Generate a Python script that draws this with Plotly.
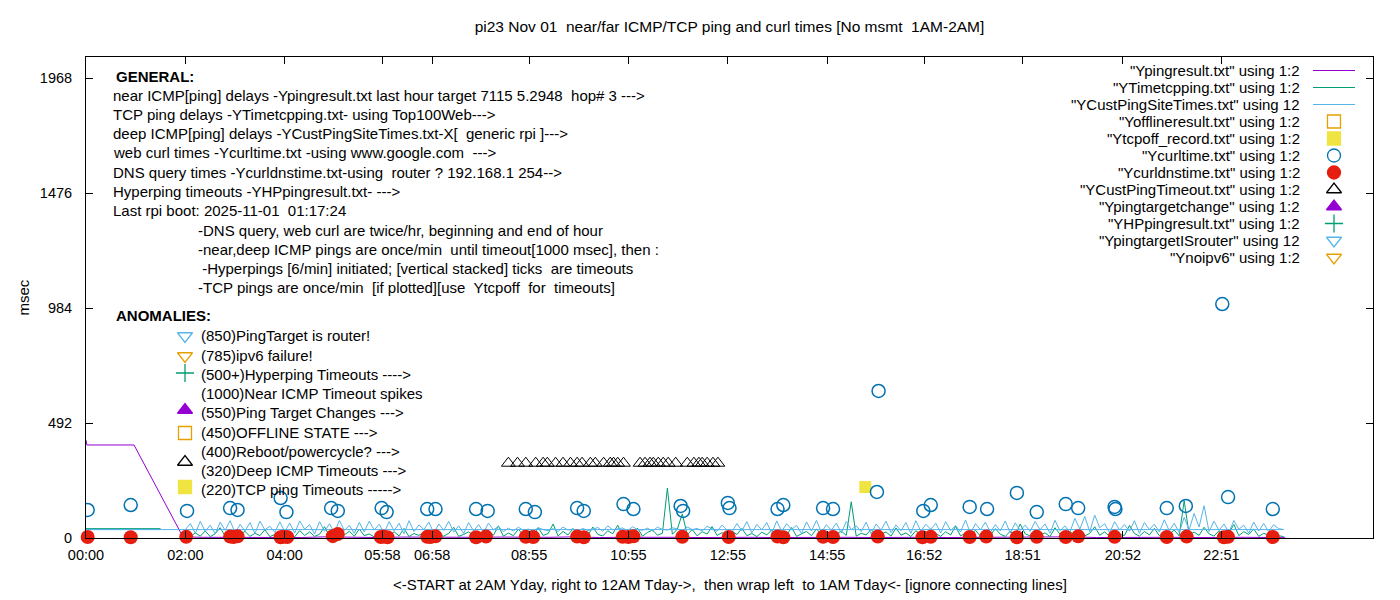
import plotly.graph_objects as go

# ---- data (x in minutes after midnight, y in msec) ----
tick_min = [0, 120, 240, 358, 418, 535, 655, 775, 895, 1012, 1131, 1252, 1371]
tick_txt = ["00:00", "02:00", "04:00", "05:58", "06:58", "08:55", "10:55",
            "12:55", "14:55", "16:52", "18:51", "20:52", "22:51"]
y_ticks = [0, 492, 984, 1476, 1968]

# once/min pings, shown here every 6 min
ping_min = [120, 126, 132, 138, 144, 150, 156, 162, 168, 174, 180, 186, 192, 198, 204, 210, 216, 222, 228, 234,
            240, 246, 252, 258, 264, 270, 276, 282, 288, 294, 300, 306, 312, 318, 324, 330, 336, 342, 348, 354,
            360, 366, 372, 378, 384, 390, 396, 402, 408, 414, 420, 426, 432, 438, 444, 450, 456, 462, 468, 474,
            480, 486, 492, 498, 504, 510, 516, 522, 528, 534, 540, 546, 552, 558, 564, 570, 576, 582, 588, 594,
            600, 606, 612, 618, 624, 630, 636, 642, 648, 654, 660, 666, 672, 678, 684, 690, 696, 702, 708, 714,
            720, 726, 732, 738, 744, 750, 756, 762, 768, 774, 780, 786, 792, 798, 804, 810, 816, 822, 828, 834,
            840, 846, 852, 858, 864, 870, 876, 882, 888, 894, 900, 906, 912, 918, 924, 930, 936, 942, 948, 954,
            960, 966, 972, 978, 984, 990, 996, 1002, 1008, 1014, 1020, 1026, 1032, 1038, 1044, 1050, 1056, 1062, 1068, 1074,
            1080, 1086, 1092, 1098, 1104, 1110, 1116, 1122, 1128, 1134, 1140, 1146, 1152, 1158, 1164, 1170, 1176, 1182, 1188, 1194,
            1200, 1206, 1212, 1218, 1224, 1230, 1236, 1242, 1248, 1254, 1260, 1266, 1272, 1278, 1284, 1290, 1296, 1302, 1308, 1314,
            1320, 1326, 1332, 1338, 1344, 1350, 1356, 1362, 1368, 1374, 1380, 1386, 1392, 1398, 1404, 1410, 1416, 1422, 1428, 1434,
            1440, 1446]

tcp_ms = [12, 5, 22, 8, 30, 6, 18, 44, 9, 25, 4, 15, 28, 7, 20, 10, 35, 6, 14, 24,
          8, 19, 5, 32, 11, 26, 7, 16, 48, 9, 21, 6, 13, 29, 8, 38, 10, 17, 5, 23,
          14, 7, 27, 9, 41, 6, 19, 11, 24, 5, 33, 12, 8, 20, 46, 7, 15, 26, 9, 18,
          6, 29, 12, 52, 8, 21, 10, 37, 14, 25, 7, 44, 11, 19, 60, 9, 28, 13, 40, 8,
          22, 11, 47, 15, 9, 31, 18, 55, 10, 26, 13, 42, 8, 24, 34, 12, 20, 214, 16, 38,
          103, 14, 36, 9, 27, 17, 49, 11, 23, 8, 30, 15, 41, 10, 19, 6, 25, 13, 35, 9,
          21, 12, 45, 7, 18, 28, 10, 39, 14, 6, 24, 16, 30, 11, 155, 8, 20, 13, 37, 9,
          17, 26, 8, 43, 12, 22, 6, 31, 15, 10, 38, 19, 7, 27, 13, 50, 9, 21, 14, 33,
          8, 24, 11, 40, 16, 7, 29, 12, 60, 18, 9, 35, 14, 22, 6, 44, 17, 10, 27, 13,
          30, 9, 20, 48, 12, 26, 7, 37, 15, 11, 54, 19, 8, 28, 13, 41, 10, 23, 16, 34,
          9, 160, 14, 25, 11, 46, 18, 8, 31, 13, 22, 58, 10, 27, 15, 39, 7, 20, 12, 29,
          10, 6]

deep_ms = [36, 62, 20, 71, 28, 55, 18, 68, 33, 74, 22, 58, 30, 66, 19, 72, 35, 50, 24, 69,
           27, 64, 21, 73, 38, 57, 17, 70, 29, 61, 23, 75, 32, 54, 20, 67, 26, 72, 34, 59,
           22, 70, 31, 63, 18, 74, 28, 56, 36, 68, 21, 60, 33, 71, 25, 52, 19, 66, 30, 58,
           24, 64, 35, 49, 27, 42, 30, 46, 33, 38, 29, 44, 36, 31, 40, 28, 47, 34, 39, 30,
           41, 32, 37, 45, 29, 52, 35, 38, 43, 31, 48, 36, 33, 42, 30, 46, 37, 34, 44, 39,
           32, 47, 36, 41, 30, 50, 38, 29, 55, 34, 26, 62, 31, 70, 22, 58, 35, 66, 20, 73,
           28, 61, 37, 54, 19, 69, 30, 75, 24, 57, 33, 64, 21, 71, 36, 52, 27, 68, 18, 60,
           34, 72, 23, 56, 31, 66, 20, 74, 29, 59, 37, 63, 22, 70, 32, 53, 26, 77, 19, 62,
           35, 68, 24, 58, 30, 73, 21, 65, 33, 55, 28, 71, 36, 60, 20, 76, 31, 52, 25, 84,
           38, 92, 27, 98, 44, 61, 22, 70, 34, 57, 29, 74, 20, 66, 36, 59, 26, 78, 31, 63,
           23, 88, 35, 105, 47, 138, 28, 72, 33, 60, 24, 75, 37, 55, 21, 68, 30, 62, 27, 57,
           40, 36]

# wrapped part (midnight to 1:30AM Today)
early_min = [0, 30, 60, 90]
early_tcp = [40, 40, 40, 40]
early_deep = [36, 36, 36, 36]

near_min = [0, 1, 58, 117, 140, 170, 200, 230, 260, 290, 320, 350, 380, 410, 440, 470, 500, 530,
            560, 590, 620, 650, 680, 710, 740, 770, 800, 830, 860, 890, 920, 950, 980, 1010, 1040,
            1070, 1100, 1130, 1160, 1190, 1220, 1250, 1280, 1310, 1340, 1370, 1400, 1430, 1448]
near_ms = [419, 398, 398, 5, 3, 2, 4, 3, 2, 5, 3, 2, 4, 3, 2, 3, 4, 2, 3, 5, 2, 3, 4, 3,
           2, 4, 3, 2, 3, 5, 3, 2, 4, 3, 2, 3, 4, 2, 3, 5, 2, 3, 4, 3, 2, 4, 3, 2, 3]

curl_min = [2, 54, 122, 174, 183, 235, 242, 296, 304, 357, 363, 412, 422, 471, 485, 531, 542,
            593, 601, 649, 661, 718, 721, 775, 777, 835, 842, 890, 902, 955, 957, 1011, 1020,
            1067, 1088, 1124, 1148, 1183, 1198, 1242, 1243, 1305, 1328, 1372, 1379, 1433]
curl_ms = [120, 141, 116, 128, 120, 171, 111, 128, 116, 128, 111, 124, 124, 124, 116, 124, 111,
           128, 116, 145, 124, 137, 116, 150, 128, 124, 141, 128, 124, 197, 629, 116, 141,
           133, 124, 193, 111, 145, 128, 133, 124, 128, 137, 1001, 175, 124]

dns_min = [2, 54, 121, 174, 178, 183, 235, 238, 243, 298, 304, 356, 359, 364, 412, 416, 422,
           471, 483, 531, 540, 593, 601, 648, 655, 661, 720, 776, 835, 842, 890, 902, 956,
           1010, 1020, 1067, 1087, 1124, 1148, 1183, 1198, 1242, 1305, 1329, 1374, 1379, 1433]
dns_ms = [4, 3, 5, 6, 4, 7, 3, 5, 4, 8, 17, 4, 6, 3, 5, 4, 7, 3, 6, 5, 4, 6, 3, 5, 4, 7, 5, 4,
          6, 3, 5, 4, 6, 3, 5, 4, 6, 3, 5, 4, 7, 5, 4, 6, 3, 5, 4]

tmo_min = [510, 521, 531, 543, 552, 557, 567, 576, 585, 593, 599, 609, 615, 625, 633, 637, 642,
           649, 669, 675, 681, 685, 691, 697, 703, 712, 726, 734, 740, 744, 750, 757, 763]
tmo_ms = [320, 320, 320, 320, 320, 320, 320, 320, 320, 320, 320, 320, 320, 320, 320, 320, 320,
          320, 320, 320, 320, 320, 320, 320, 320, 320, 320, 320, 320, 320, 320, 320, 320]

tcpoff_min = [941]
tcpoff_ms = [218]

# ---- colours (gnuplot default set) ----
PURPLE = "#9400d3"
GREEN = "#009e73"
LBLUE = "#56b4e9"
ORANGE = "#e69f00"
YELLOW = "#f0e442"
BLUE = "#0072b2"
RED = "#e51e10"
FONT = "Liberation Sans"

X_MAX, Y_MAX = 1554, 2058
L, R, T, B = 86, 1373, 57, 538   # plot box in page pixels


def gx(px):  # page pixel -> x data
    return (px - L) * X_MAX / (R - L)


def gy(py):  # page pixel -> y data
    return (B - py) * Y_MAX / (B - T)


fig = go.Figure()

fig.add_scatter(x=near_min, y=near_ms, mode="lines", line=dict(color=PURPLE, width=1))
fig.add_scatter(x=early_min + [None] + ping_min, y=early_tcp + [None] + tcp_ms,
                mode="lines", line=dict(color=GREEN, width=1))
# file order wraps: 2AM..midnight, then back to 0:00
fig.add_scatter(x=ping_min + early_min, y=deep_ms + early_deep,
                mode="lines", line=dict(color=LBLUE, width=1))
fig.add_scatter(x=tcpoff_min, y=tcpoff_ms, mode="markers",
                marker=dict(symbol="square", size=12, color=YELLOW))
fig.add_scatter(x=curl_min, y=curl_ms, mode="markers",
                marker=dict(symbol="circle-open", size=13, color=BLUE, line=dict(width=1.5)))
fig.add_scatter(x=dns_min, y=dns_ms, mode="markers", cliponaxis=False,
                marker=dict(symbol="circle", size=14, color=RED))
fig.add_scatter(x=tmo_min, y=tmo_ms, mode="markers",
                marker=dict(symbol="triangle-up-open", size=12, color="black", line=dict(width=1)))


# ---- labels and key, placed by page pixel ----
def glyph(px, py, symbol, color):
    fig.add_scatter(x=[gx(px)], y=[gy(py)], mode="markers", cliponaxis=False, hoverinfo="skip",
                    marker=dict(symbol=symbol, size=13, color=color, line=dict(width=1.3, color=color)))


def txt(px, py, s, anchor="left", bold=False, size=15):
    fig.add_annotation(x=gx(px), y=gy(py), text=("<b>%s</b>" % s) if bold else s,
                       showarrow=False, xanchor=anchor, yanchor="middle",
                       font=dict(family=FONT, size=size, color="black"))


general = [
    "near ICMP[ping] delays -Ypingresult.txt last hour target 7115 5.2948  hop# 3 --->",
    "TCP ping delays -YTimetcpping.txt- using Top100Web--->",
    "deep ICMP[ping] delays -YCustPingSiteTimes.txt-X[  generic rpi ]--->",
    "web curl times -Ycurltime.txt -using www.google.com  --->",
    "DNS query times -Ycurldnstime.txt-using  router ? 192.168.1 254-->",
    "Hyperping timeouts -YHPpingresult.txt- --->",
    "Last rpi boot: 2025-11-01  01:17:24",
]
notes = [
    "-DNS query, web curl are twice/hr, beginning and end of hour",
    "-near,deep ICMP pings are once/min  until timeout[1000 msec], then :",
    " -Hyperpings [6/min] initiated; [vertical stacked] ticks  are timeouts",
    "-TCP pings are once/min  [if plotted][use  Ytcpoff  for  timeouts]",
]
txt(114, 76, "GENERAL:", bold=True)
for i, s in enumerate(general):
    txt(111, 95 + 19.3 * i, s)
for i, s in enumerate(notes):
    txt(196, 230 + 19.3 * i, s)

txt(114, 315, "ANOMALIES:", bold=True)
anomalies = [
    ("(850)PingTarget is router!", 335, 336, "triangle-down-open", LBLUE),
    ("(785)ipv6 failure!", 355, 356, "triangle-down-open", ORANGE),
    ("(500+)Hyperping Timeouts ---->", 374, 373, "cross-thin-open", GREEN),
    ("(1000)Near ICMP Timeout spikes", 393, None, None, None),
    ("(550)Ping Target Changes --->", 412, 410, "triangle-up", PURPLE),
    ("(450)OFFLINE STATE --->", 432, 433, "square-open", ORANGE),
    ("(400)Reboot/powercycle? --->", 451, None, None, None),
    ("(320)Deep ICMP Timeouts --->", 470, 462, "triangle-up-open", "black"),
    ("(220)TCP ping Timeouts ----->", 489, 487, "square", YELLOW),
]
for s, ty, sy, sym, col in anomalies:
    txt(199, ty, s)
    if sym:
        glyph(185, sy, sym, col)

# key (gnuplot style: text, then sample on the right)
key = [
    ('"Ypingresult.txt" using 1:2', "line", PURPLE),
    ('"YTimetcpping.txt" using 1:2', "line", GREEN),
    ('"YCustPingSiteTimes.txt" using 12', "line", LBLUE),
    ('"Yofflineresult.txt" using 1:2', "square-open", ORANGE),
    ('"Ytcpoff_record.txt" using 1:2', "square", YELLOW),
    ('"Ycurltime.txt" using 1:2', "circle-open", BLUE),
    ('"Ycurldnstime.txt" using 1:2', "circle", RED),
    ('"YCustPingTimeout.txt" using 1:2', "triangle-up-open", "black"),
    ('"Ypingtargetchange" using 1:2', "triangle-up", PURPLE),
    ('"YHPpingresult.txt" using 1:2', "cross-thin-open", GREEN),
    ('"YpingtargetISrouter" using 12', "triangle-down-open", LBLUE),
    ('"Ynoipv6" using 1:2', "triangle-down-open", ORANGE),
]
for i, (s, sym, col) in enumerate(key):
    py = 70.5 + 17.0 * i
    txt(1302, py, s, anchor="right")
    if sym == "line":
        fig.add_scatter(x=[gx(1313), gx(1355)], y=[gy(py), gy(py)], mode="lines",
                        hoverinfo="skip", line=dict(color=col, width=1))
    else:
        glyph(1334, py, sym, col)

# box round the plot with inward ticks mirrored on top and right
axis_common = dict(showline=True, linecolor="black", linewidth=1, mirror="ticks",
                   ticks="inside", ticklen=7, tickcolor="black", showgrid=False, zeroline=False,
                   automargin=False, tickfont=dict(family=FONT, size=14.5, color="black"))

fig.update_layout(
    template="none",
    width=1400, height=600,
    margin=dict(l=L, r=1400 - R, t=T, b=600 - B, pad=0),
    paper_bgcolor="white", plot_bgcolor="white",
    showlegend=False,
    font=dict(family=FONT, color="black"),
    title=dict(text="pi23 Nov 01  near/far ICMP/TCP ping and curl times [No msmt  1AM-2AM]",
               x=0.5, xref="paper", xanchor="center", y=1 - 27 / 600, yanchor="middle",
               font=dict(family=FONT, size=15.5, color="black")),
    xaxis=dict(range=[0, X_MAX], tickvals=tick_min, ticktext=tick_txt, ticklabelstandoff=4,
               **axis_common),
    yaxis=dict(range=[0, Y_MAX], tickvals=y_ticks, ticklabelstandoff=10, **axis_common),
)

fig.add_annotation(xref="paper", yref="paper", x=(12 - L) / (R - L), y=(B - 298) / (B - T),
                   text="msec", textangle=-90, showarrow=False,
                   font=dict(family=FONT, size=15, color="black"))
fig.add_annotation(xref="paper", yref="paper", x=0.5, y=(B - 584) / (B - T), yanchor="middle",
                   text="<-START at 2AM Yday, right to 12AM Tday->,  then wrap left  to 1AM Tday<- [ignore connecting lines]",
                   showarrow=False, font=dict(family=FONT, size=15, color="black"))

# the page body has an 8px default margin; drop it so the 1400x600 figure fills the window
fig.write_html("out.html", config={"displayModeBar": False},
               post_script="document.body.style.margin='0px';")
